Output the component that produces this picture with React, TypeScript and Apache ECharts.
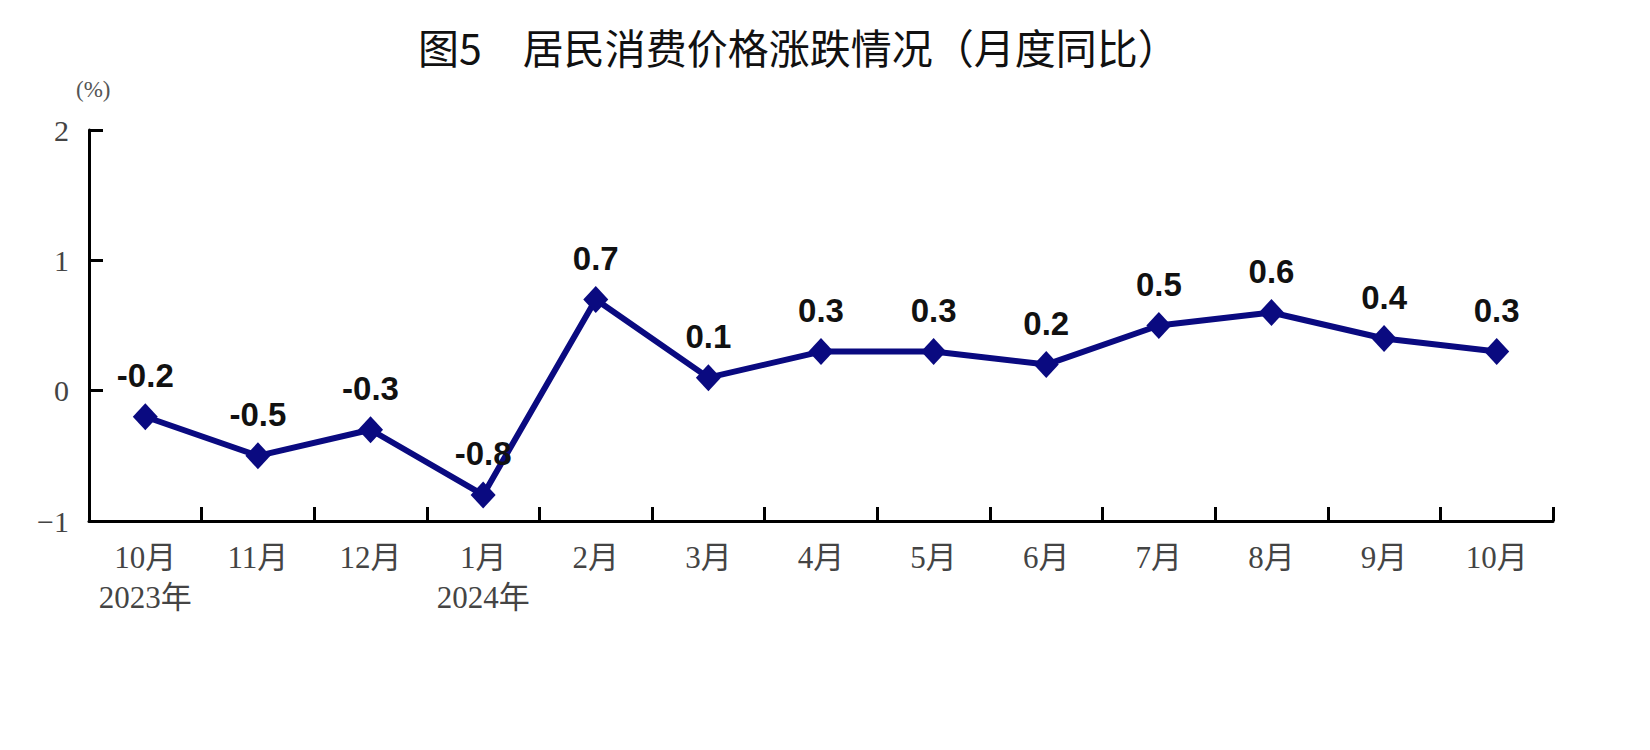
import { useEffect, useRef } from 'react'
import * as echarts from 'echarts'

// 居民消费价格涨跌情况（月度同比）
const MONTHS = ['10月', '11月', '12月', '1月', '2月', '3月', '4月', '5月', '6月', '7月', '8月', '9月', '10月']
const YEARS = ['2023年', '', '', '2024年', '', '', '', '', '', '', '', '', '']
const VALUES = [-0.2, -0.5, -0.3, -0.8, 0.7, 0.1, 0.3, 0.3, 0.2, 0.5, 0.6, 0.4, 0.3]
const Y_TICKS = [-1, 0, 1, 2]

const NAVY = '#0a0a80'
const SERIF = "'Liberation Serif', 'DejaVu Serif', 'Noto Sans CJK SC', serif"
const SANS = "'Liberation Sans', Arial, 'Noto Sans CJK SC', sans-serif"

function buildOption(): echarts.EChartsCoreOption {
  const cats = MONTHS.map((m, i) => (YEARS[i] ? `${m}\n${YEARS[i]}` : m))
  return {
    animation: false,
    grid: { left: 89, right: 97, top: 130, bottom: 229, containLabel: false },
    graphic: [
      {
        type: 'text',
        left: 418,
        top: 25,
        style: {
          text: '图5　居民消费价格涨跌情况（月度同比）',
          fontSize: 41,
          fontFamily: "'Noto Sans CJK SC', sans-serif",
          fill: '#111',
        },
      },
      {
        type: 'text',
        left: 76,
        top: 78,
        style: { text: '(%)', fontSize: 23, fontFamily: SERIF, fill: '#555' },
      },
    ],
    xAxis: {
      type: 'category',
      data: cats,
      boundaryGap: true,
      axisLine: { onZero: false, lineStyle: { color: '#000', width: 3 } },
      axisTick: { show: true, inside: true, length: 14, alignWithLabel: false, lineStyle: { color: '#000', width: 3 } },
      axisLabel: {
        interval: 0,
        margin: 16,
        fontSize: 31,
        lineHeight: 40,
        fontFamily: SERIF,
        color: '#444',
      },
    },
    yAxis: {
      type: 'value',
      min: Y_TICKS[0],
      max: Y_TICKS[Y_TICKS.length - 1],
      interval: 1,
      axisLine: { show: true, lineStyle: { color: '#000', width: 3 } },
      axisTick: { show: true, inside: true, length: 14, lineStyle: { color: '#000', width: 3 } },
      splitLine: { show: false },
      axisLabel: {
        margin: 20,
        fontSize: 30,
        fontFamily: SERIF,
        color: '#444',
        formatter: (v: number) => (v < 0 ? `\u2212${Math.abs(v)}` : `${v}`),
      },
    },
    series: [
      {
        type: 'line',
        data: VALUES,
        symbol: 'diamond',
        symbolSize: [25, 27],
        lineStyle: { color: NAVY, width: 6 },
        itemStyle: { color: NAVY },
        label: {
          show: true,
          position: 'top',
          distance: 11,
          fontSize: 33,
          fontWeight: 'bold',
          fontFamily: SANS,
          color: '#111',
          formatter: (p: { value: number }) => p.value.toFixed(1),
        },
      },
    ],
  }
}

export default function App() {
  const ref = useRef<HTMLDivElement>(null)

  useEffect(() => {
    const el = ref.current
    if (!el) return
    const chart = echarts.init(el, undefined, { renderer: 'svg' })
    chart.setOption(buildOption())
    return () => chart.dispose()
  }, [])

  return (
    <div
      ref={ref}
      style={{ position: 'fixed', left: 0, top: 0, width: 1650, height: 750, background: '#fff' }}
    />
  )
}
